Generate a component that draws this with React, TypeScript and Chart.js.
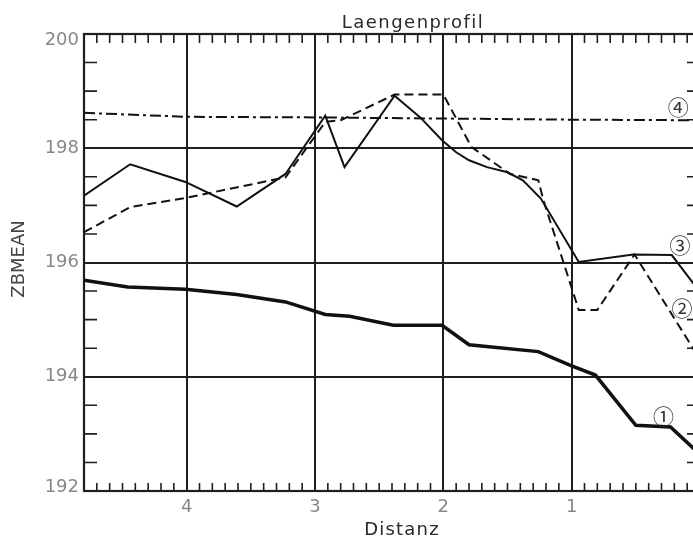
import { useEffect, useRef } from 'react';
import { Chart, registerables } from 'chart.js';

Chart.register(...registerables);

const FONT = '"DejaVu Sans", "Noto Sans CJK SC", sans-serif';
const MARK_FONT = '"Noto Sans CJK SC", "DejaVu Sans", sans-serif';

const title = 'Laengenprofil';
const xTitle = 'Distanz';
const yTitle = 'ZBMEAN';

const xMajorTicks = [1, 2, 3, 4];
const yMajorTicks = [192, 194, 196, 198, 200];

// Series 1 (thick solid)
const s1X = [4.8, 4.46, 4.01, 3.61, 3.23, 2.92, 2.73, 2.39, 2.01, 1.8, 1.26, 1.01, 0.815, 0.5, 0.23, 0.0];
const s1Y = [195.69, 195.57, 195.53, 195.44, 195.31, 195.09, 195.06, 194.9, 194.9, 194.56, 194.44, 194.2, 194.03, 193.15, 193.12, 192.64];

// Series 2 (dashed)
const s2X = [4.8, 4.44, 4.01, 3.23, 2.92, 2.8, 2.38, 2.0, 1.78, 1.48, 1.26, 1.22, 0.985, 0.945, 0.8, 0.51, 0.0];
const s2Y = [196.53, 196.97, 197.13, 197.49, 198.46, 198.49, 198.94, 198.94, 198.02, 197.55, 197.44, 197.09, 195.45, 195.17, 195.17, 196.14, 194.3];

// Series 3 (thin solid)
const s3X = [4.8, 4.44, 4.01, 3.61, 3.23, 2.92, 2.77, 2.38, 2.18, 2.01, 1.9, 1.8, 1.66, 1.5, 1.38, 1.24, 0.945, 0.52, 0.22, 0.0];
const s3Y = [197.17, 197.72, 197.41, 196.98, 197.55, 198.57, 197.67, 198.92, 198.54, 198.14, 197.93, 197.79, 197.67, 197.58, 197.44, 197.12, 196.01, 196.14, 196.13, 195.48];

// Series 4 (dash-dot)
const s4X = [4.8, 4.0, 3.0, 2.0, 1.0, 0.0];
const s4Y = [198.62, 198.55, 198.54, 198.52, 198.5, 198.49];

// Circled series markers (data coordinates)
const markText = ['①', '②', '③', '④'];
const markX = [0.285, 0.14, 0.155, 0.17];
const markY = [193.32, 195.21, 196.3, 198.73];

const pts = (xs: number[], ys: number[]) => xs.map((x, i) => ({ x, y: ys[i] }));

const INK = '#1e1e1e';

const framePlugin = {
  id: 'frameAndMinor',
  beforeDatasetsDraw(chart: any) {
    const { ctx, chartArea: a, scales } = chart;
    const x = scales.x;
    const y = scales.y;
    ctx.save();
    ctx.strokeStyle = INK;
    ctx.lineWidth = 1.6;
    ctx.beginPath();
    for (let i = 1; i < 48; i++) {
      if (i % 10 === 0) continue;
      const px = x.getPixelForValue(i / 10);
      ctx.moveTo(px, a.top);
      ctx.lineTo(px, a.top + 9);
      ctx.moveTo(px, a.bottom);
      ctx.lineTo(px, a.bottom - 8);
    }
    for (let k = 1; k < 16; k++) {
      if (k % 4 === 0) continue;
      const py = y.getPixelForValue(192 + k * 0.5);
      ctx.moveTo(a.left, py);
      ctx.lineTo(a.left + 13, py);
      ctx.moveTo(a.right, py);
      ctx.lineTo(a.right - 13, py);
    }
    ctx.stroke();
    ctx.lineWidth = 2.2;
    ctx.strokeRect(a.left, a.top, a.right - a.left, a.bottom - a.top);
    ctx.restore();
  },
  afterDraw(chart: any) {
    const { ctx, chartArea: a, scales } = chart;
    const x = scales.x;
    const y = scales.y;
    ctx.save();
    // y tick labels (end labels kept inside the axis span, as in the original)
    ctx.font = `18px ${FONT}`;
    ctx.fillStyle = '#888';
    ctx.textAlign = 'right';
    ctx.textBaseline = 'middle';
    yMajorTicks.forEach((v) => {
      let py = y.getPixelForValue(v);
      if (py < a.top + 6) py = a.top + 6;
      if (py > a.bottom - 4) py = a.bottom - 4;
      ctx.fillText(String(v), a.left - 5, py);
    });
    ctx.fillStyle = '#2a2a2a';
    ctx.textAlign = 'center';
    ctx.textBaseline = 'alphabetic';
    (ctx as any).letterSpacing = '1.5px';
    ctx.fillText(title, 413, 28);
    (ctx as any).letterSpacing = '1.2px';
    ctx.fillText(xTitle, 402, 535);
    (ctx as any).letterSpacing = '0px';
    ctx.save();
    ctx.translate(19, 259);
    ctx.rotate(-Math.PI / 2);
    ctx.textBaseline = 'middle';
    ctx.fillStyle = '#444';
    ctx.fillText(yTitle, 0, 0);
    ctx.restore();
    ctx.font = `21px ${MARK_FONT}`;
    ctx.fillStyle = '#333';
    ctx.textBaseline = 'middle';
    markText.forEach((t, i) => {
      ctx.fillText(t, x.getPixelForValue(markX[i]), y.getPixelForValue(markY[i]));
    });
    ctx.restore();
  },
};

export default function App() {
  const ref = useRef<HTMLCanvasElement | null>(null);
  useEffect(() => {
    if (!ref.current) return;
    const chart = new Chart(ref.current, {
      type: 'line',
      data: {
        datasets: [
          { data: pts(s1X, s1Y), borderColor: '#111', borderWidth: 3.5, pointRadius: 0, fill: false, tension: 0 },
          { data: pts(s2X, s2Y), borderColor: '#111', borderWidth: 2, borderDash: [9, 5], pointRadius: 0, fill: false, tension: 0 },
          { data: pts(s3X, s3Y), borderColor: '#111', borderWidth: 2, pointRadius: 0, fill: false, tension: 0 },
          { data: pts(s4X, s4Y), borderColor: '#111', borderWidth: 2, borderDash: [11, 4, 3, 4], pointRadius: 0, fill: false, tension: 0 },
        ],
      },
      options: {
        animation: false,
        responsive: true,
        maintainAspectRatio: false,
        devicePixelRatio: 1,
        layout: { padding: { top: 34, left: 0, right: 0, bottom: 0 } },
        plugins: { legend: { display: false }, tooltip: { enabled: false }, title: { display: false } },
        scales: {
          x: {
            type: 'linear',
            reverse: true,
            min: 0,
            max: 4.8,
            afterBuildTicks: (s: any) => { s.ticks = xMajorTicks.map((v) => ({ value: v })); },
            afterFit: (s: any) => { s.height = 46; },
            grid: { color: INK, lineWidth: 2, drawTicks: false },
            border: { display: false },
            ticks: { font: { family: FONT, size: 18 }, color: '#888', padding: 6, maxRotation: 0, callback: (v: any) => String(v) },
          },
          y: {
            type: 'linear',
            min: 192,
            max: 200,
            afterBuildTicks: (s: any) => { s.ticks = yMajorTicks.map((v) => ({ value: v })); },
            afterFit: (s: any) => { s.width = 84; },
            grid: { color: INK, lineWidth: 2, drawTicks: false },
            border: { display: false },
            ticks: { display: false },
          },
        },
      },
      plugins: [framePlugin],
    });
    return () => chart.destroy();
  }, []);
  return (
    <div style={{ position: 'fixed', left: 0, top: 0, width: 693, height: 537, overflow: 'hidden', background: '#fff' }}>
      <div style={{ position: 'relative', width: 700, height: 537 }}>
        <canvas ref={ref} />
      </div>
    </div>
  );
}
